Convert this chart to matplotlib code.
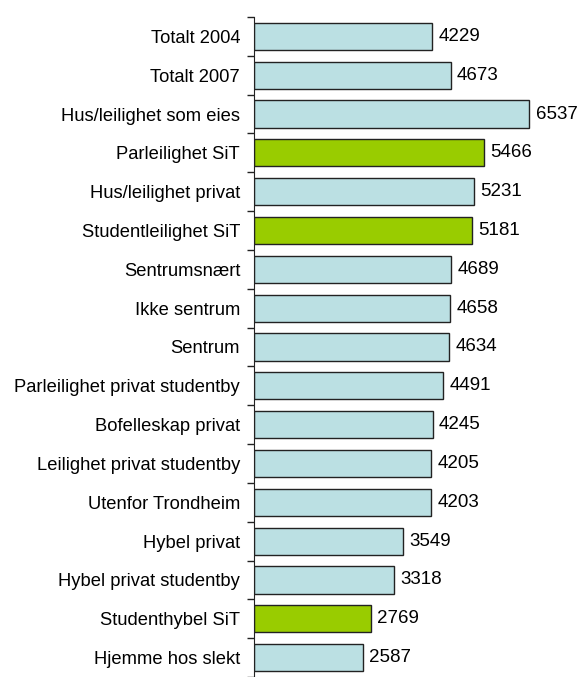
import numpy as np
import matplotlib.pyplot as plt

categories = ["Totalt 2004", "Totalt 2007", "Hus/leilighet som eies", "Parleilighet SiT",
              "Hus/leilighet privat", "Studentleilighet SiT", "Sentrumsnært", "Ikke sentrum",
              "Sentrum", "Parleilighet privat studentby", "Bofelleskap privat",
              "Leilighet privat studentby", "Utenfor Trondheim", "Hybel privat",
              "Hybel privat studentby", "Studenthybel SiT", "Hjemme hos slekt"]
values = [4229, 4673, 6537, 5466, 5231, 5181, 4689, 4658, 4634, 4491, 4245,
          4205, 4203, 3549, 3318, 2769, 2587]
sit = ["Parleilighet SiT", "Studentleilighet SiT", "Studenthybel SiT"]

plt.rcParams['font.family'] = ['Liberation Sans', 'DejaVu Sans']

fig = plt.figure(figsize=(5.82, 6.77), dpi=100)
ax = fig.add_axes([254 / 582, 0, 1 - 254 / 582, 660 / 677])

n = len(categories)
y = np.arange(n)
colors = ["#99CC00" if c in sit else "#BBE0E3" for c in categories]
ax.barh(y, values, height=0.7, color=colors, edgecolor="#222222", linewidth=1)

for yi, v in zip(y, values):
    ax.text(v + 150, yi, str(v), va="center", ha="left", fontsize=13.5)

ax.set_xlim(0, 7790)
ax.set_ylim(n - 0.5, -0.5)
ax.set_yticks(y)
ax.set_yticklabels(categories, fontsize=13.2)
ax.tick_params(axis="y", which="major", length=0, pad=10)
ax.set_yticks(np.arange(n + 1) - 0.5, minor=True)
ax.tick_params(axis="y", which="minor", length=5, width=1, color="#222222")
ax.set_xticks([])
for s in ["top", "right", "bottom"]:
    ax.spines[s].set_visible(False)
ax.spines["left"].set_color("#222222")

fig.savefig("out.png", dpi=100)
